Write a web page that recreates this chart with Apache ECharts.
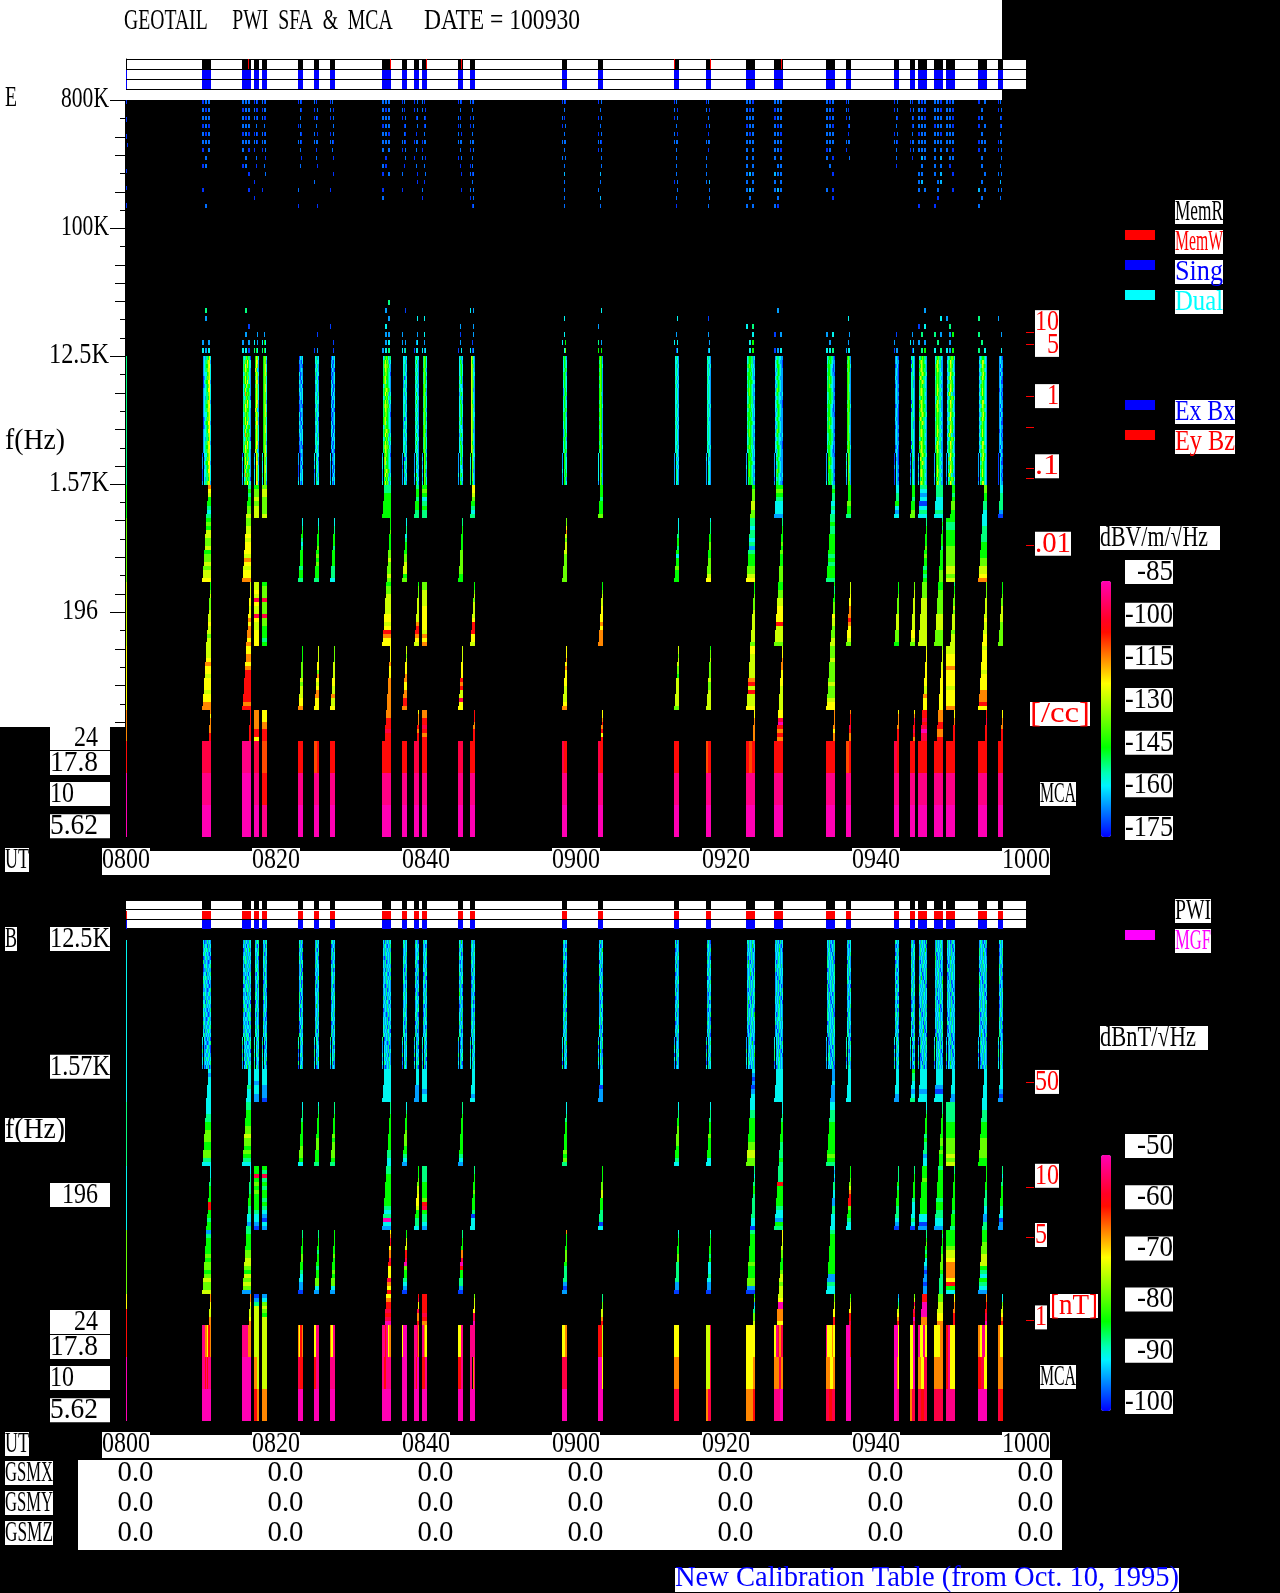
<!DOCTYPE html>
<html><head><meta charset="utf-8">
<style>html,body{margin:0;padding:0;background:#000}#c{width:1280px;height:1593px}</style>
<script src="https://cdn.jsdelivr.net/npm/echarts@6/dist/echarts.min.js"></script>
</head><body><div id="c"></div>
<script>
// ---- time axis: minutes after 08:00 ----
const utTicks=[0,20,40,60,80,100,120];
const utLabels=['0800','0820','0840','0900','0920','0940','1000'];
const gsmX=[0,0,0,0,0,0,0],gsmY=[0,0,0,0,0,0,0],gsmZ=[0,0,0,0,0,0,0];
// ---- measurement bursts [start,end] in minutes ----
const burstStart=[0,10.13,15.47,17.07,18.13,22.93,25.07,27.2,34.13,36.8,38.4,39.47,44.27,45.87,58.13,62.93,73.07,77.33,82.67,86.4,93.33,96,102.4,104.53,105.6,107.73,109.33,113.6,116.27];
const burstEnd=[0.13,11.33,16.67,17.73,18.8,23.6,25.73,27.87,35.33,37.47,39.07,40.13,44.93,46.53,58.8,63.6,73.73,78,83.87,87.6,94.53,96.67,103.07,105.2,106.8,108.93,110.53,114.8,116.93];
const burstKind=['L','W','W','B','B','T','T','T','X','T','S','B','T','S','T','S','T','T','W','X','W','S','S','S','X','X','Y','W','S'];
const memWriteMarks=[16.27,35.2,40,44.67,73.07,77.87,87.33];
// sweep start delay in 8-s samples, per band b1..b5, stepped from top of band
const sweepT=[4,3,2,1,0],sweepS1=[2,1,0],sweepS3=[4,3,2,1,0],sweepS5=[4,3];
const sweepLateT=[8,7,6,5,5],sweepL1=[6,5,4],sweepL3=[8,7,6,5,4],sweepL5=[8,7];
const sweepKinds={L:[[0],[0],[0],[0],[0]],
 T:[null,sweepT,null,sweepT,null],S:[sweepS1,null,sweepS3,null,sweepS5],B:[[0],null,[0],null,[0]],
 W:[sweepL1,sweepT,sweepL3,sweepT,sweepL5],X:[sweepS1,sweepLateT,sweepS3,sweepLateT,sweepS5],Y:[sweepL1,[0],sweepL3,[0],sweepL5]};
// ---- frequency scale ----
const bandEdges=[12500,1543,903,319,113,39.9,24.2,14.4,8.54,5.08];
const highEdges=[800000,130000],midEdges=[31200,12500];
const freqMajor=[800000,100000,12500,1570,196];
const freqMajorLabels=['800K','100K','12.5K','1.57K','196'];
const freqMinorShort=[594e3,244e3,134.6e3,74.3e3,22.7e3,16.8e3,9290,5130,2830,1166,644,356,146,80,44];
const freqMinorLong=[442e3,328e3,181e3,55.2e3,41e3,30.5e3,6900,3810,2100,867,479,264,108,60,33];
const mcaLabels=['24','17.8','10','5.62'],mcaLabelFreq=[25.3,16.9,10.2,6.06];
const densityTickFreq=[18500,15200,6530,3947,2027,1724,580];
const densityLabels=['10','5','1','.1','.01'],densityLabelFreq=[21700,15000,6530,2090,594];
const fieldTickFreq=[1248,227,101,26.2];
const fieldLabels=['50','10','5','1'],fieldLabelFreq=[1248,272,104,27.3];
// ---- colour levels (code -> dB) ----
const levelCodes='012345678r9apb';
const levelsE=[-170.5,-163.3,-156.1,-149.8,-143.5,-134.5,-125.5,-121,-112,-107.5,-102.1,-95.8,-89.5,-85];
const levelsHighE=[-171.4,-166.9,-161.5,-149.8,-143.5,-134.5,-125.5,-121,-112,-107.5,-102.1,-95.8,-89.5,-85];
const levelsB=[-97.5,-93.5,-89.5,-86,-82.5,-77.5,-72.5,-70,-65,-62.5,-59.5,-56,-52.5,-50];
const dbVticks=[-85,-100,-115,-130,-145,-160,-175];
const dbTticks=[-50,-60,-70,-80,-90,-100];
const ramp=['#0000ff','#003dff','#0079ff','#00b6ff','#00f3ff','#00ffb6','#00ff5b','#00ff00','#33ff00','#66ff00','#99ff00','#ccff00','#ffff00','#ffc200','#ff8600','#ff4900','#ff0c00','#ff0026','#ff0055','#ff0085','#ff00b4'];
// ---- E spectrogram, level codes per burst; '.' = no data ----
const eHigh=["0.....0......0...0.......0.....0....0....","011101111010101111"+"0.1.1.01."+"......0......1.","111011101111010111"+"1.0.1.01."+"..0.....0......","010100101.1.010110"+"0...1..0."+"...0.....0.....","101011100.1.101111"+"0.1..0.1."+"..1...0........","010.10.1.01..10110"+".1...0.1."+"......1.....0..","10.0.1010.1.1.0111"+".0..1...0"+"...1..........0","01.1.00.1..10.1110"+".1...0..."+"..0...0........","111101111011110111"+"1.1.0.10."+"0.1...0..1.....","01.10.0.1.01.10110"+"0.1..1.0."+"1.....0........","0.10.1.01..1.0.011"+".1.0...1."+"..0..0.........","10.1.0.10.01.1.011"+"0..1.0.1."+"..1.0.1..0.....","010.1.10.01.1.0111"+".1.0.1.0."+"..0.....0......","101.1.0.10.1.1.111"+"0.1.1.01."+"101.1.1.10.1.01","010.1.10.0.1.1.111"+".1.1.1.1."+".2..1..1..1..1.","0.1.1.0.1.1.0.1110"+"0.1..1..1"+".2..1.1...2..1.","01.1.00.1.1.1.0111"+".1..1..1."+".1.0.1..1.1..0.","01.1.0.1.0.1.0.111"+".0.1..1.."+"1..1.2..1..1.1.","110101111011101111"+"1.11.11.1"+"1211.1121.1.1.1","111011011101110111"+"1101.1.11"+"2111.1121.1.10.","101110101110111111"+"01.1.0.1."+"..0...1.0..0...","01.10.0.1.01.0.111"+"0....1..."+"...............","0.10.1.10.1.0.1110"+".1..1..0."+"...............","10.0.1.10.01.1.011"+"0.1.0...."+"...............","101110110111011111"+"111.21.1."+"11.12.1.1...0..","110110111011110111"+"1.11.21.1"+"1.2.12.1..0.0..","101110110110111111"+"1.0.11.0."+"..0.....0......","0.1.1.01.0.1.1.011"+"0.1.1..1."+"..1.1.2.1.1.1..","01.0.1.10.01.1.011"+"0.1..1.1."+"1.1.2.1.1.1...."];
const eMid=[".....................","....3..1.......1.1212","....3......0.1.1.1220","..............12.1342",".............1.242342",".....................","..............0...0.1",".........0.......0..0","..3.1...1.2..11.12123",".....0......1..1.1213","........2.....1.12022",".......2.....2..1.212","..........1..0..1.0.2","...2.1.....1..1.0.201",".......2.....2.2.4.25",".....2...1.....3.14.4","........2....1.2.2.02",".......0.....1...1.12",".........2.3..2.24.24","....1.......0.1...012","............1.2.1.223",".......2......1.1.122",".............0.1..011",".............1.2.1.02",".....1...0.2.3.1.1.34","........2...3.1.3.2.3","......1...3..14.1.214","......3.....3...3.3.2","......1.......1.....2"];
const e0=["3",
"012133462101234572012224562112335661012234772101235562012344672012233562102344771012335662",
"132354330123463441023545321133547422124634421234643521134736422223845431134647321234654421",
"24652136521465224761246522365124751246522476136521",
"24552245622456324551245623455224562345522455224562",
"10212011201201121102021121102120110012121210210121",
"12312213212312212322013212132021231122131223112321",
"10212112012101221102121022011212012120211201210210",
"123454233223544321134554320234645312134565431245644321135655421134745312245634321134654331",
"12212013121232112231123211301212312121321123212312",
"13232123121323112421132211232113231224211323112321",
"13542245321354223542145412354113542245311354224531",
"12312132211234212431123221324112342213421234112342",
"36521265314652236421365112652146531365212653146521",
"13431124321343112432213421343212432113431243212343",
"24541235412454113541245412354114542245312454123541",
"12321132121232112231123211321212312123211232112321",
"12321123211232113221123212321112312123211322112321",
"123443312224343211134434212123443311134543212124443211134542321124543211134344322223443212",
"012332211121343211112343211123432110113543211123432111122443210123432112112343211121343211",
"123443310134532211134432110224343211134443210124543211134432201123443311134343211124432101",
"14531345212453113541245213453114542245312453123541",
"01210102110121001211012100211010120012110121001210",
"12321023111232110321123210233112421023211231110321",
"123454331234543321134565432245654321135654331246543321134654431235654321134565321245654331",
"123453321134643211134543321124652311134653321124543211135643311234643211134543321134653211",
"012345542123465431112375432123475331112475421123574321113465421124652311112355421123455321",
"012344321123454321112356431123466321112464321123465421112365431123464321112354321123455321",
"01210012110102101211002100121001021012010120001210"];
const eB1=["4","87644323","34344556","45565666","56655556","","","","33444444","","34434433","45423433","","77654323","","44434445","","","45556655","45432221","34332323","44445443","22334212","44434455","32120232","33322232","44345544","55443322","22333310"];
const eB2=["5","4546655645565667","5566767776876778","","","2234432344443443","2234444545454443","2233444344443332","4445444455655565","2233234445566645","","","3344444455555544","","5578656665555555","","2223344342445444","2333445544555567","3323323134445567","3344445454445555","3433444443434443","","","","3344444545443434","3434444344444555","4334444555556656","2233334444556678",""];
const eB3=["6","4456555666766566","6666776778788878","6676a766a7667777","4555a555a5544434","","","","4556666677679877","","4555666666899876","5566667777776878","","4456566667999776","","4456667777878888","","","4445555666666665","4455667777966665","4334455576655566","6667778889877765","4445555566665554","5566666666667765","5555666666666666","4455555566665555","3445556566665666","5555666667666777","4445556666555555"];
const eB4=["7","6667877677767788","7788789999999989","","","4444555565666778","6666775876788777","5555666677668667","7777877788888888","6656777887788998","","","6666777798966a77","","7778787777666678","","6656655466666665","4556555565566666","7766666689696667","6778887777666666","5556555556555677","","","","6777777777668777","5666667777777777","6677787777677778","6777776777788897",""];
const eB5=["88","87888899","99999999","88888997","77788999","","","","88999a99","","78889899","8899a989","","99988999","","77898979","","","77888888","77ab9898","88888788","8999a988","78888999","78a99a98","99a9abaa","88899889","77889999","99aa9999","77888999"];
const eMca=["9,b,b","a,p,b","p,b,b","a,p,b","r,9,p","9,p,b","r9,p,b","9,p,b","9,p,b","9,p,b","a,p,b","9,p,b","a,p,b","9,p,b","a9,p,b","a9,p,b","9,p,b","r9,p,b","9r9,p,b","9,p,b","9,p,b","r9,p,b","a9,p,b","9,p,b","9,p,b","9,p,b","9,p,b","9,p,b","9,p,b"];
// ---- B spectrogram ----
const b0=["2",
"120113121123122031232123231212123212102130123121012311210123102321123",
"213121132112120231232013212412312131212012321312122132312121120312131212",
"21323123102312213212123123120312131212321",
"12132121203121312123012312131202312012131",
"12131023120311213212130123120312132121302",
"2131212132112310214121312123012132121312",
"13212130121321203121312123112130121312",
"12031213212132102132121312131012132121312101312132121301213212131212123",
"123120132121312123012132121312023212131",
"213102132121312213012131212321123102131",
"1312213120132121310212312132102131213212",
"12141203121321213112301213212131021312",
"21311203212131213012132121312013212131",
"1321214120131212312130121321213102132",
"2131213201213121410213211231213021213",
"120312131212301213212131021321213112",
"21310213211231213012131221310213212131",
"12312132102131214120312123102132121312132102131213214102131212312131",
"21312031213212131021321214120131212312130121321213120132121312132",
"12131201321213012132112310213121321203121312123012132121310213212",
"213121321021312123012132121311203212131",
"1321213102132121312013121231213012132",
"2131021321213112301213212131201312123",
"121321203121312123012132121410213121321203121312123102132121312132",
"2131213210213121231201321213121301213212141021312123121302121312131",
"13120132121312130121321213102132121312130121412123102132121312013",
"212310213121321203121312132102131214120132121312130121321213121313",
"123121302121312132102131212310213212131"];
const bB1=["2","21222222","22223222","22212211","22221110","","","","22222222","","22221111","22222122","","22222212","","22220111","","","21010122","22222222","11121111","22222222","22222211","43322123","22222122","22221022","22222211","22222222","22222101"];
const bB2=["3","2223344555445532","3344445565545432","","","2233344444455542","2334444445554443","3334444454555543","3334444444443322","2234444555544321","","","3334444444444321","","2223344444445453","","2233445555544432","2233344454444422","2233444444556655","2223344444333343","2233344444444543","","","","2234444434333122","3334444445545444","3333344445555656","2233344445555544",""];
const bB3=["2","2223344449944344","2233333444332213","44a4545444432210","43a3434434321021","","","","3344444444323b21","","4445566777644332","3333444459a43321","","3344445444430222","","4444556644433302","","","3323344333333220","3333944444322143","2121332211332222","4445568999544322","3333434444333210","3344444432222320","4445444444442201","3444444434433221","3344444444434443","4444443333221133","3323344444322011"];
const bB4=["5","1344445455456556","3444455665465651","","","3344445544322110","3344434443445521","4444445444545521","78a9788a9777a879","4467699ab5443210","","","3344488ab9443310","","8444455543333101","","2344445533333110","2344443422232110","3444444454445510","7776655444566566","3444444444411322","","","","3345434221011011","4344445555433333","4444566788887942","4445556664324321",""];
const bB5=["79","88776688","88766678","01366666","12565466","","","","7899a9ab","","9a77a889","99999a98","","56677aab","","33556689","","","45123556","67bb8887","55667799","4567799a","12356789","56a8a9ba","99bbbb88","55666778","77888999","88999aab","22566789"];
const bMca=["9,b,b","pp88798,pp9p9pp,b","ppppp88,b,b","6,86,98","6,6,8","8798,a9,b","7pp,9pp,b","87pp,pp,b","pp9p78,p9pp,b","7bbbb,b,b","ppa8,p9b,b","p87,99p,b","7p,9p,b","p,pp8p,b","778,a,b","9996,bbb7,b","7,8,a","666a,666a,8a","77,7778,8889","7pa8a,88a8,ppb","p77787,8878,a9a","bbb9,b,b","bbb7,bb87,bbp","77b,77b,8a","p77p7,87a,a9a","778,888,aa","9p77,9p77,pp","87p7,9a7,b","87,8,a9"];

// ---- build cells: [tStart,tEnd,fTop,fBottom,dB] ----
const SAMPLE=8/60,NOISE_ROWS=32;
function levelDb(ch,tbl){const i=levelCodes.indexOf(ch);return i<0?null:tbl[i];}
function gridCells(str,t0,t1,cols,fHi,fLo,tbl,out,colFrac,rowFrac){
  const rows=Math.max(1,Math.floor(str.length/cols)),hf=rowFrac||1;
  for(let r=0;r<rows;r++)for(let c=0;c<cols;c++){
    const d=levelDb(str[r*cols+c],tbl); if(d===null)continue;
    const w=(t1-t0)/cols;
    out.push([t0+c*w,t0+c*w+w*colFrac,fHi*Math.pow(fLo/fHi,r/rows),fHi*Math.pow(fLo/fHi,(r+hf)/rows),d]);
  }
}
// fine speckle band: the per-burst table is read in sequence down the band
function noiseCells(str,t0,t1,cols,fHi,fLo,tbl,out,rowStep){
  const w=(t1-t0)/cols,L=str.length;
  for(let r=0;r<NOISE_ROWS;r++)for(let c=0;c<cols;c++){
    if(cols>1&&((r<24&&c===0)||(r>=24&&c===1)))continue;
    const d=levelDb(str[(r*rowStep+c)%L],tbl); if(d===null)continue;
    out.push([t0+c*w,t0+(c+1)*w,fHi*Math.pow(fLo/fHi,r/NOISE_ROWS),fHi*Math.pow(fLo/fHi,(r+1)/NOISE_ROWS),d]);
  }
}
function bandCells(str,i,bandIdx,tbl,out){
  if(!str)return;
  const steps=sweepKinds[burstKind[i]][bandIdx]||[0];
  const hi=bandEdges[bandIdx+1],lo=bandEdges[bandIdx+2],n=str.length;
  for(let r=0;r<n;r++){
    const d=levelDb(str[r],tbl); if(d===null)continue;
    let s=Math.min(Math.floor(r/4),steps.length-1); if(r===n-1&&n>=8&&steps.length>2)s=steps.length-1;
    out.push([burstStart[i]+steps[s]*SAMPLE,burstEnd[i],hi*Math.pow(lo/hi,r/n),hi*Math.pow(lo/hi,(r+1)/n),d]);
  }
}
function panelCells(p0,b1,b2,b3,b4,b5,mca,tbl,high,mid,noiseStep){
  const out=[];
  burstStart.forEach((t0,i)=>{
    const t1=burstEnd[i],cols=Math.max(1,Math.round((t1-t0)/SAMPLE));
    noiseCells(p0[i],t0,t1,cols,bandEdges[0],bandEdges[1],tbl,out,noiseStep(cols));
    [b1,b2,b3,b4,b5].forEach((b,k)=>bandCells(b[i],i,k,tbl,out));
    const rows=mca[i].split(',');
    rows.forEach((s,r)=>gridCells(s,t0,t1,s.length,bandEdges[6+r],bandEdges[7+r],tbl,out,1));
    if(high){
      gridCells(high[i],t0,t1,3,highEdges[0],highEdges[1],levelsHighE,out,0.6,0.5);
      gridCells(mid[i],t0,t1,3,midEdges[0],midEdges[1],tbl,out,0.6,0.6);
    }
  });
  return out;
}
const eCells=panelCells(e0,eB1,eB2,eB3,eB4,eB5,eMca,levelsE,eHigh,eMid,cols=>cols*3);
const bCells=panelCells(b0,bB1,bB2,bB3,bB4,bB5,bMca,levelsB,null,null,cols=>cols+1);

// ---- text helpers: bitmap-like 12px pitch, tall serif ----
const FONT='24px "Liberation Serif"';
const ctx=document.createElement('canvas').getContext('2d');ctx.font=FONT;
function textOnly(str,x,y,anchor,fill,z){
  const w=ctx.measureText(str).width||1,target=str.length*12;
  return {type:'text',x:x,y:y,z:z,scaleX:target/w,scaleY:1.25,silent:true,
    style:{text:str,fill:fill||'#000',font:FONT,textAlign:anchor||'left',textVerticalAlign:'middle'}};
}
function box(x,y,w,h,z,fill){return {type:'rect',z:z,silent:true,shape:{x:x,y:y,width:w,height:h},style:{fill:fill||'#fff'}};}
function boxed(str,x,yc,w,fill,anchor,tx){
  return [box(x,yc-12,w,24,100),textOnly(str,tx===undefined?x:tx,yc,anchor||'left',fill,101)];
}
function pxRect(api,t0,t1,f0,f1){const a=api.coord([t0,f0]),b=api.coord([t1,f1]);
  const x0=Math.round(a[0]),x1=Math.max(x0+1,Math.round(b[0])),y0=Math.round(a[1]),y1=Math.max(y0+1,Math.round(b[1]));
  return {x:x0,y:y0,width:x1-x0,height:y1-y0};}
function spectro(g){return {type:'custom',xAxisIndex:g,yAxisIndex:g,coordinateSystem:'cartesian2d',clip:false,silent:true,animation:false,progressive:0,z:5,
  dimensions:['t0','t1','fHi','fLo','dB'],encode:{x:[0,1],y:[2,3]},
  renderItem(p,api){return {type:'rect',shape:pxRect(api,api.value(0),api.value(1),api.value(2),api.value(3)),style:{fill:api.visual('color')}};}};}
function labelSeries(g,data,fn){return {type:'custom',xAxisIndex:g,yAxisIndex:g,coordinateSystem:'cartesian2d',clip:false,silent:true,animation:false,z:20,data:data,
  encode:{x:0,y:1},renderItem(p,api){return {type:'group',children:fn(p.dataIndex,api)};}};}
function lineTick(x0,x1,y,c){return {type:'rect',shape:{x:x0,y:Math.round(y),width:x1-x0,height:1},style:{fill:c}};}

// ---- status bars ----
const statusE=[],statusB=[];
burstStart.forEach((t0,i)=>{const t1=burstEnd[i],first=i===0;
  if(!first)statusE.push([t0,t1,0,0]);statusE.push([t0,t1,1,2],[t0,t1,2,2]);
  if(!first)statusB.push([t0,t1,0,0]);statusB.push([t0,t1,1,1],[t0,t1,2,2]);});
memWriteMarks.forEach(t=>statusE.push([t,t+SAMPLE*0.9,0,1]));
const statusColors=['#000','#f00','#00f'];
function statusSeries(g,data){return {type:'custom',xAxisIndex:g,yAxisIndex:g,coordinateSystem:'cartesian2d',clip:false,silent:true,animation:false,progressive:0,z:5,data:data,encode:{x:[0,1],y:2},
  renderItem(p,api){const r=api.value(2),a=api.coord([api.value(0),r]),b=api.coord([api.value(1),r+1]);
    const x0=Math.round(a[0]),y0=Math.round(a[1]);
    return {type:'rect',shape:{x:x0,y:y0+(r?1:0),width:Math.max(1,Math.round(b[0])-x0),height:Math.round(b[1])-y0-(r?1:0)},style:{fill:statusColors[api.value(3)]}};}};}

// ---- layout ----
const hiddenX=(g,min,max)=>({type:'value',gridIndex:g,min:min,max:max,show:false});
const grids=[
 {left:126,width:900,top:100,height:737},           //0 E spectrogram
 {left:126,width:900,top:940,height:481},           //1 B spectrogram
 {left:126,width:900,top:59,height:30,show:true,backgroundColor:'#fff',borderWidth:0}, //2 E status
 {left:126,width:900,top:900,height:28.5,show:true,backgroundColor:'#fff',borderWidth:0}, //3 B status
 {left:1125,width:48,top:572,height:256},           //4 dBV label axis
 {left:1125,width:48,top:1146,height:256},          //5 dBnT label axis
 {left:126,width:900,top:1458,height:90}            //6 GSM table
];
const statusAxis=(g,leftLine)=>({type:'value',gridIndex:g,min:0,max:3,interval:1,inverse:true,
  axisLabel:{show:false},axisTick:{show:false},axisLine:{show:leftLine,lineStyle:{color:'#000',width:1}},splitLine:{show:true,lineStyle:{color:'#000',width:1}}});
const freqAxis=(g,max,ticks)=>({type:'log',logBase:2,gridIndex:g,min:5.08,max:max,
  axisLine:{show:false},axisLabel:{show:false},splitLine:{show:false},minorTick:{show:false},
  axisTick:{show:ticks,length:15,inside:false,lineStyle:{color:'#000',width:1},customValues:freqMajor}});

const gsmRows=[['GSMX',gsmX],['GSMY',gsmY],['GSMZ',gsmZ]];
const tableData=[];gsmRows.forEach((r,ri)=>r[1].forEach((v,i)=>tableData.push([utTicks[i],ri,v])));

const series=[
 Object.assign(spectro(0),{data:eCells}),   //0
 Object.assign(spectro(1),{data:bCells}),   //1
 statusSeries(2,statusE),
 statusSeries(3,statusB),
 // minor/major frequency ticks
 labelSeries(0,freqMinorShort.map(f=>[0,f,5]).concat(freqMinorLong.map(f=>[0,f,10])),(i,api)=>{
   const p=api.coord([0,api.value(1)]);return [lineTick(125-api.value(2),125,p[1],'#000')];}),
 // frequency labels E
 labelSeries(0,freqMajor.map((f,i)=>[0,f]),(i,api)=>{const p=api.coord([0,api.value(1)]);
   return [textOnly(freqMajorLabels[i],i===4?98:109,p[1]-1,'right','#000',101),lineTick(110,125,p[1],'#000')];}),
 labelSeries(0,mcaLabelFreq.map(f=>[0,f]),(i,api)=>{const p=api.coord([0,api.value(1)]);
   return boxed(mcaLabels[i],50,p[1],60,'#000',i===0?'right':'left',i===0?98:50);}),
 // frequency labels B
 labelSeries(1,freqMajor.slice(2).map(f=>[0,f]),(i,api)=>{const p=api.coord([0,api.value(1)]);
   return boxed(freqMajorLabels[i+2],50,p[1]-1,60,'#000',i===2?'right':'left',i===2?98:50);}),
 labelSeries(1,mcaLabelFreq.map(f=>[0,f]),(i,api)=>{const p=api.coord([0,api.value(1)]);
   return boxed(mcaLabels[i],50,p[1],60,'#000',i===0?'right':'left',i===0?98:50);}),
 // UT labels
 labelSeries(0,utTicks.map(t=>[t,1000]),(i,api)=>{const p=api.coord([api.value(0),1000]);
   return boxed(utLabels[i],p[0]-24,860,48,'#000','left',p[0]-24);}),
 labelSeries(1,utTicks.map(t=>[t,1000]),(i,api)=>{const p=api.coord([api.value(0),1000]);
   return boxed(utLabels[i],p[0]-24,1444,48,'#000','left',p[0]-24);}),
 // density scale
 labelSeries(0,densityTickFreq.map(f=>[0,f]),(i,api)=>[lineTick(1026,1034,api.coord([0,api.value(1)])[1],'#f00')]),
 labelSeries(0,densityLabelFreq.map(f=>[0,f]),(i,api)=>{const y=api.coord([0,api.value(1)])[1],s=densityLabels[i];
   const w=s==='.01'?36:24;return boxed(s,1035,y,w,'#f00','right',1035+w);}),
 // field scale
 labelSeries(1,fieldTickFreq.map(f=>[0,f]),(i,api)=>[lineTick(1026,1034,api.coord([0,api.value(1)])[1],'#f00')]),
 labelSeries(1,fieldLabelFreq.map(f=>[0,f]),(i,api)=>{const y=api.coord([0,api.value(1)])[1],s=fieldLabels[i];
   return boxed(s,1035,y,s.length*12,'#f00','left',1035);}),
 // colour scale labels
 labelSeries(4,dbVticks.map(v=>[0,v]),(i,api)=>{const y=api.coord([0,api.value(1)])[1];
   return boxed(String(dbVticks[i]),1125,y,48,'#000','right',1173);}),
 labelSeries(5,dbTticks.map(v=>[0,v]),(i,api)=>{const y=api.coord([0,api.value(1)])[1];
   return boxed(String(dbTticks[i]),1125,y,48,'#000','right',1173);}),
 // GSM table
 labelSeries(6,tableData,(i,api)=>{const p=api.coord([api.value(0),api.value(1)]);
   return [textOnly(api.value(2).toFixed(1),p[0]-8.5,p[1],'left','#000',101)];}),
 labelSeries(6,gsmRows.map((r,i)=>[0,i]),(i,api)=>{const p=api.coord([0,i]);
   return boxed(gsmRows[i][0],5,p[1],48,'#000','left',5);})
];

const g=[];
const bg=(x,y,w,h)=>g.push(box(x,y,w,h,0));
bg(0,0,1002,100);bg(0,100,125,627);
bg(102,851,948,24);bg(102,1435,948,23);bg(78,1460,984,90);
const tx=(s,x,y,fill)=>g.push(...boxed(s,x,y,s.length*12,fill));
const legend=(s,x,y,fill)=>tx(s,x,y,fill);
g.push(Object.assign(textOnly('GEOTAIL     PWI  SFA  &  MCA',124,21,'left','#000',101),{scaleX:0.82}));
g.push(textOnly('DATE = 100930',424,21,'left','#000',101));
g.push(textOnly('E',5,98,'left','#000',101));
g.push(textOnly('f(Hz)',5,441,'left','#000',101));
tx('UT',5,860,'#000');tx('UT',5,1444,'#000');
tx('B',5,939,'#000');tx('f(Hz)',5,1130,'#000');
legend('MemR',1175,212,'#000');legend('MemW',1175,242,'#f00');legend('Sing',1175,272,'#00f');legend('Dual',1175,302,'#0ff');
g.push(box(1125,230,30,10,100,'#f00'),box(1125,260,30,10,100,'#00f'),box(1125,290,30,10,100,'#0ff'));
legend('Ex Bx',1175,412,'#00f');legend('Ey Bz',1175,442,'#f00');
g.push(box(1125,400,30,10,100,'#00f'),box(1125,430,30,10,100,'#f00'));
g.push(...boxed('dBV/m/√Hz',1100,538,120,'#000'));
g.push(...boxed('[/cc]',1030,714,60,'#f00'));
tx('MCA',1040,794,'#000');
legend('PWI',1175,911,'#000');legend('MGF',1175,941,'#f0f');
g.push(box(1125,930,30,10,100,'#f0f'));
g.push(...boxed('dBnT/√Hz',1100,1038,108,'#000'));
g.push(...boxed('[nT]',1050,1306,48,'#f00'));
tx('MCA',1040,1377,'#000');
g.push(box(675,1568,504,24,100),textOnly('New Calibration Table (from Oct. 10, 1995)',675,1578,'left','#00f',101));

const chart=echarts.init(document.getElementById('c'),null,{renderer:'canvas'});
chart.setOption({
 animation:false,backgroundColor:'#000',tooltip:{show:false},
 grid:grids,
 xAxis:[hiddenX(0,0,120),hiddenX(1,0,120),hiddenX(2,0,120),hiddenX(3,0,120),hiddenX(4,0,1),hiddenX(5,0,1),hiddenX(6,0,120)],
 yAxis:[freqAxis(0,800000,true),freqAxis(1,12500,false),statusAxis(2,true),statusAxis(3,false),
  {type:'value',gridIndex:4,min:-175,max:-85,show:false},{type:'value',gridIndex:5,min:-100,max:-50,show:false},
  {type:'category',gridIndex:6,data:['GSMX','GSMY','GSMZ'],inverse:true,show:false}],
 visualMap:[
  {type:'continuous',seriesIndex:0,dimension:4,min:-175,max:-85,left:1101,top:581,itemWidth:10,itemHeight:256,padding:0,text:null,showLabel:false,calculable:false,hoverLink:false,inRange:{color:ramp}},
  {type:'continuous',seriesIndex:1,dimension:4,min:-100,max:-50,left:1101,top:1155,itemWidth:10,itemHeight:256,padding:0,text:null,showLabel:false,calculable:false,hoverLink:false,inRange:{color:ramp}}
 ],
 graphic:{elements:g},
 series:series
});
</script></body></html>
